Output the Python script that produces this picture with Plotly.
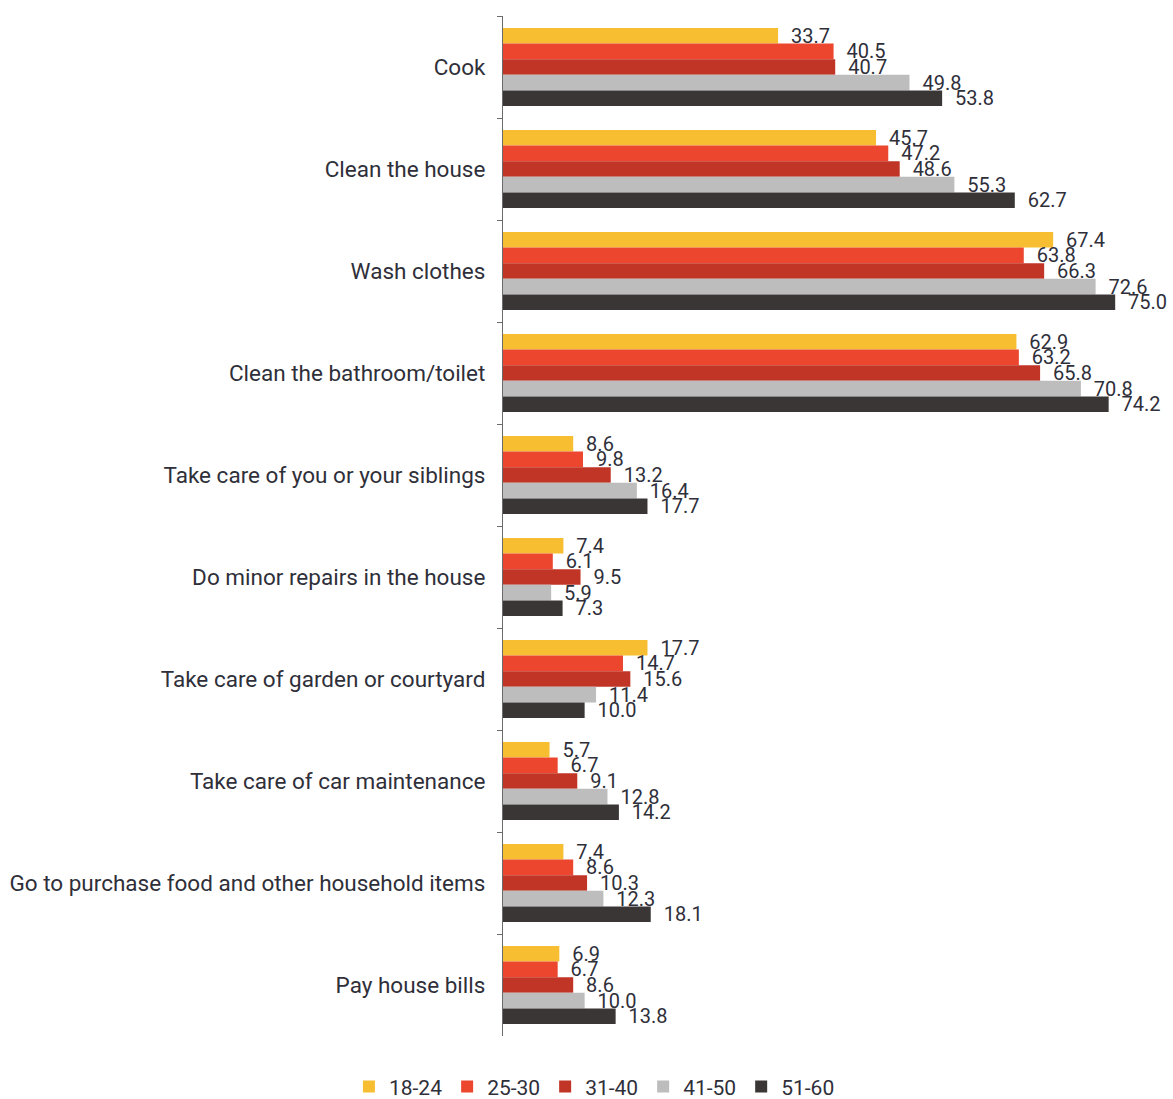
import plotly.graph_objects as go

# Household tasks by age group (% of respondents)
tasks = [
    "Cook",
    "Clean the house",
    "Wash clothes",
    "Clean the bathroom/toilet",
    "Take care of you or your siblings",
    "Do minor repairs in the house",
    "Take care of garden or courtyard",
    "Take care of car maintenance",
    "Go to purchase food and other household items",
    "Pay house bills",
]

age_groups = ["18-24", "25-30", "31-40", "41-50", "51-60"]

age_18_24 = [33.7, 45.7, 67.4, 62.9, 8.6, 7.4, 17.7, 5.7, 7.4, 6.9]
age_25_30 = [40.5, 47.2, 63.8, 63.2, 9.8, 6.1, 14.7, 6.7, 8.6, 6.7]
age_31_40 = [40.7, 48.6, 66.3, 65.8, 13.2, 9.5, 15.6, 9.1, 10.3, 8.6]
age_41_50 = [49.8, 55.3, 72.6, 70.8, 16.4, 5.9, 11.4, 12.8, 12.3, 10.0]
age_51_60 = [53.8, 62.7, 75.0, 74.2, 17.7, 7.3, 10.0, 14.2, 18.1, 13.8]

series = [age_18_24, age_25_30, age_31_40, age_41_50, age_51_60]
colors = ["#F7BE31", "#EC462F", "#C13526", "#BDBDBD", "#3A3636"]

FONT = "Roboto"
TEXT_COLOR = "#2f2f3a"

fig = go.Figure()
for name, values, color in zip(age_groups, series, colors):
    fig.add_trace(
        go.Bar(
            name=name,
            y=tasks,
            x=values,
            orientation="h",
            marker=dict(color=color, line=dict(width=0)),
            text=[f"  {v:.1f}" for v in values],
            textposition="outside",
            constraintext="none",
            cliponaxis=False,
            textfont=dict(family=FONT, size=20, color=TEXT_COLOR),
        )
    )

fig.update_layout(
    width=1173,
    height=1099,
    barmode="group",
    bargap=0.235,
    bargroupgap=0,
    plot_bgcolor="white",
    paper_bgcolor="white",
    margin=dict(l=503, r=17, t=16, b=63, autoexpand=False),
    font=dict(family=FONT, size=20, color=TEXT_COLOR),
    legend=dict(
        orientation="h",
        x=0.14,
        xanchor="center",
        yref="container",
        y=0.011,
        yanchor="middle",
        font=dict(family=FONT, size=21, color=TEXT_COLOR),
        itemwidth=30,
        tracegroupgap=0,
    ),
)

fig.update_xaxes(
    range=[0, 80],
    showticklabels=False,
    showgrid=False,
    zeroline=False,
    showline=False,
    ticks="",
)

fig.update_yaxes(
    autorange="reversed",
    showline=True,
    linecolor="#6b6b6b",
    linewidth=1.2,
    ticks="outside",
    tickson="boundaries",
    ticklen=5,
    tickcolor="#6b6b6b",
    showgrid=False,
    ticklabelstandoff=12,
    tickfont=dict(family=FONT, size=22.5, color=TEXT_COLOR),
)

fig.write_html("out.html")
